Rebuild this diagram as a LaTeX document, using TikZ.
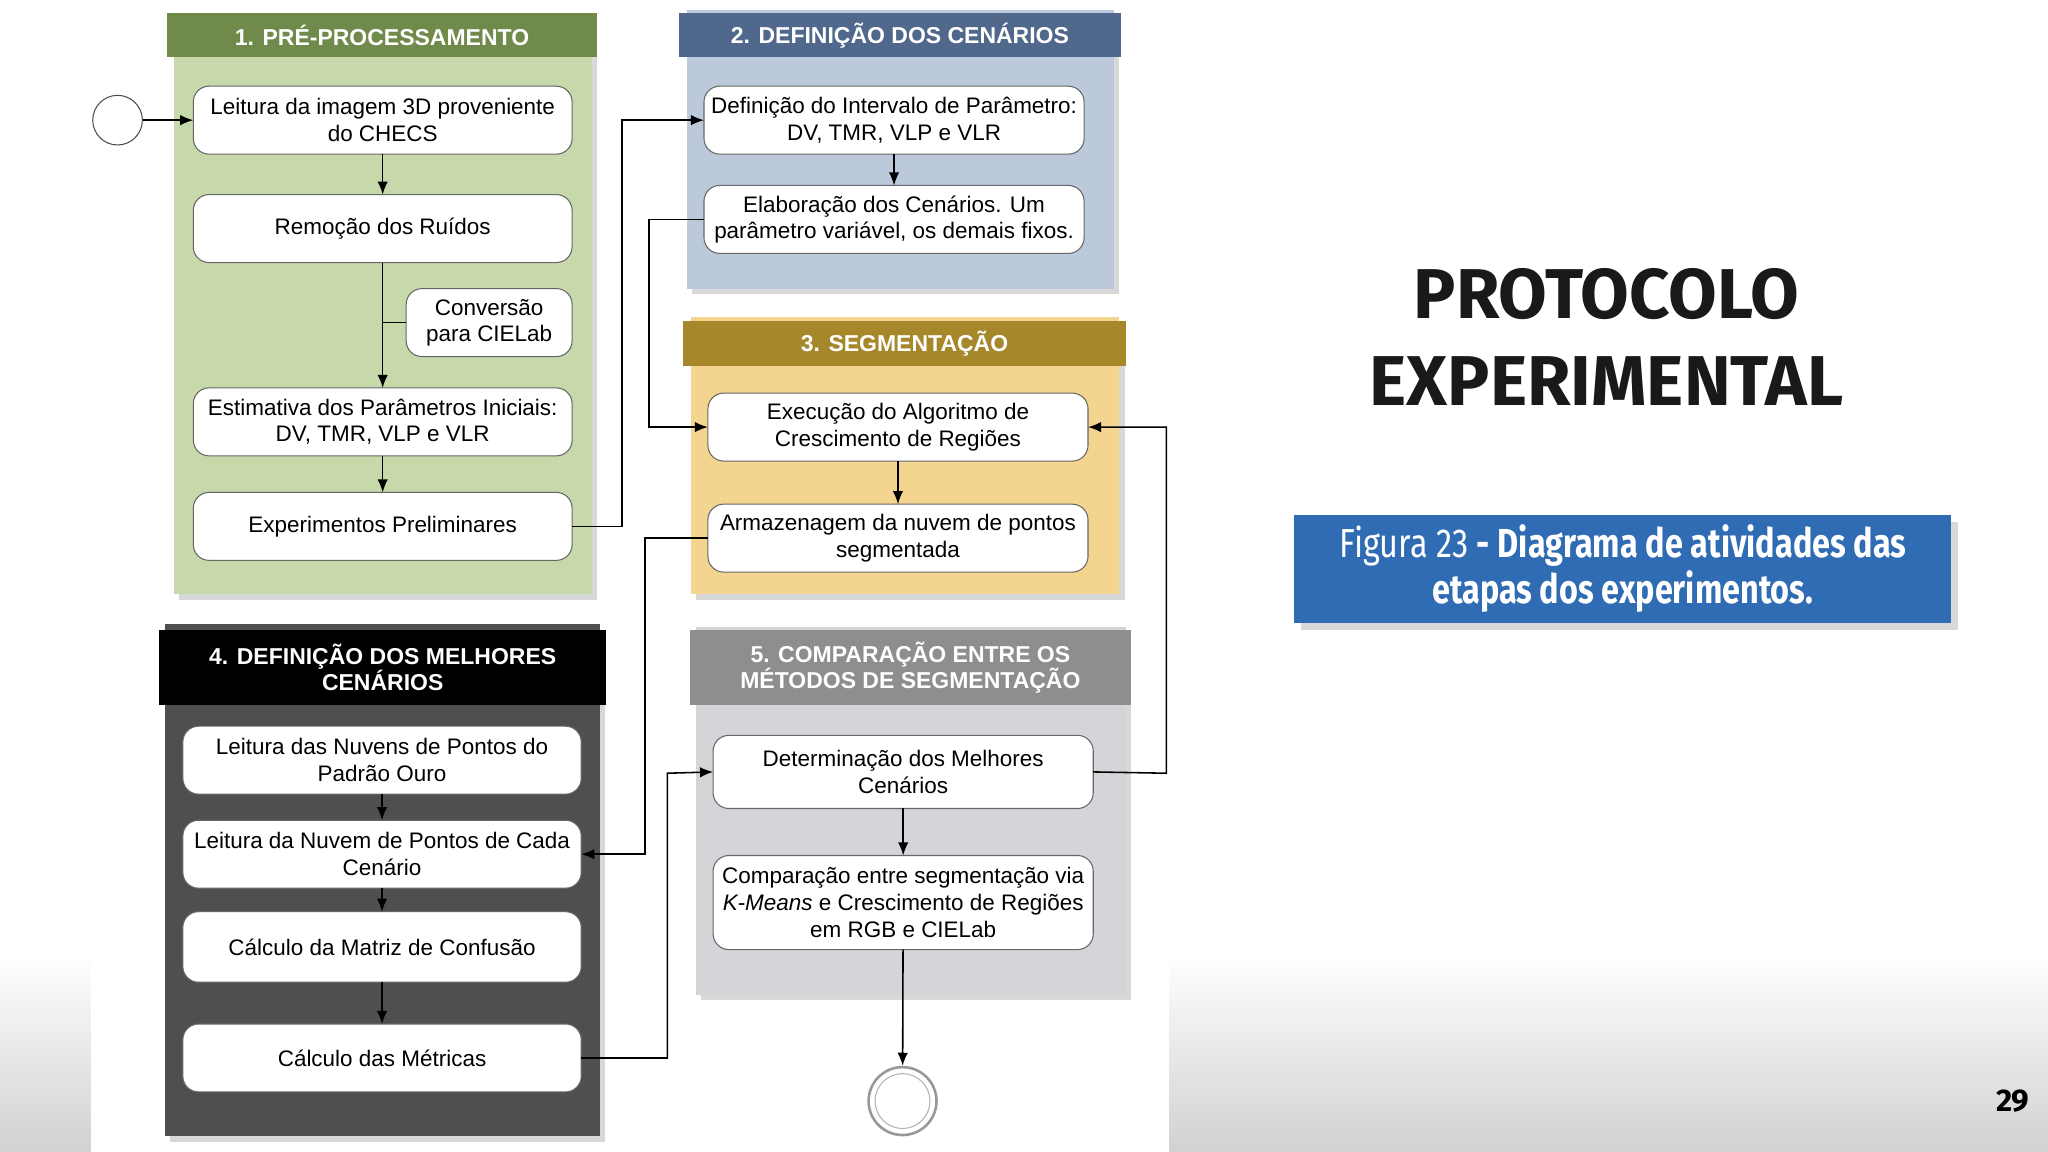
\documentclass[tikz,border=0pt]{standalone}
\usepackage{fontspec}
\setmainfont{Liberation Sans}
\newfontfamily\titfont{Fira Sans}
\usetikzlibrary{arrows.meta,shadows}
\definecolor{g1}{HTML}{C7D8AA}\definecolor{g2}{HTML}{6F8A4A}
\definecolor{b1}{HTML}{BCC9DB}\definecolor{b2}{HTML}{50688C}
\definecolor{y1}{HTML}{F3D590}\definecolor{y2}{HTML}{A6872A}
\definecolor{d1}{HTML}{4F4F4F}
\definecolor{c1}{HTML}{D5D5D9}\definecolor{c2}{HTML}{8E8E90}
\definecolor{fb}{HTML}{2F6CB3}
\tikzset{
 box/.style={draw=black!60,rounded corners=6pt,fill=white,outer sep=0pt,align=center,font=\fontsize{8.6}{10.2}\selectfont,inner sep=1pt},
 panel/.style={outer sep=0pt,drop shadow={shadow xshift=2pt,shadow yshift=-2pt,opacity=0.3}},
 head/.style={outer sep=0pt,align=center,text=white,font=\bfseries\fontsize{8.8}{10}\selectfont},
 arr/.style={-{Latex[length=5pt,width=4pt]},black,line width=0.6pt},
}
\newcommand{\bx}[7][box]{\node[#1,minimum width={(#5-#3)*0.5pt},minimum height={(#6-#4)*0.5pt}] (#2) at ({(#3+#5)/2},{(#4+#6)/2}) {#7};}
\begin{document}
\begin{tikzpicture}[x=0.5pt,y=-0.5pt]
\useasboundingbox (0,0) rectangle (1568,882);
\shade[top color=white,bottom color=black!18] (0,730) rectangle (1568,882);
\fill[white] (70,0) rectangle (895,882);
% panels
\bx[panel,fill=g1]{p1}{133}{10}{453}{455}{}
\bx[head,fill=g2]{h1}{128}{10}{457}{44}{1. PRÉ-PROCESSAMENTO}
\bx[panel,fill=b1]{p2}{526}{8}{853}{221}{}
\bx[head,fill=b2]{h2}{520}{10}{858}{44}{2. DEFINIÇÃO DOS CENÁRIOS}
\bx[panel,fill=y1]{p3}{529}{243}{857}{455}{}
\bx[head,fill=y2]{h3}{523}{246}{862}{280}{3. SEGMENTAÇÃO}
\bx[panel,fill=d1]{p4}{126}{478}{459}{870}{}
\bx[head,fill=black]{h4}{122}{482}{464}{540}{4. DEFINIÇÃO DOS MELHORES\\CENÁRIOS}
\bx[panel,fill=c1]{p5}{533}{480}{862}{762}{}
\bx[head,fill=c2]{h5}{528}{482}{866}{540}{5. COMPARAÇÃO ENTRE OS\\MÉTODOS DE SEGMENTAÇÃO}
% boxes
\bx{a1}{148}{66}{438}{118}{Leitura da imagem 3D proveniente\\do CHECS}
\bx{a2}{148}{149}{438}{201}{Remoção dos Ruídos}
\bx{a3}{311}{221}{438}{273}{Conversão\\para CIELab}
\bx{a4}{148}{297}{438}{349}{Estimativa dos Parâmetros Iniciais:\\DV, TMR, VLP e VLR}
\bx{a5}{148}{377}{438}{429}{Experimentos Preliminares}
\bx{b1x}{539}{66}{830}{118}{Definição do Intervalo de Parâmetro:\\DV, TMR, VLP e VLR}
\bx{b2x}{539}{142}{830}{194}{Elaboração dos Cenários. Um\\parâmetro variável, os demais fixos.}
\bx{s1}{542}{301}{833}{353}{Execução do Algoritmo de\\Crescimento de Regiões}
\bx{s2}{542}{386}{833}{438}{Armazenagem da nuvem de pontos\\segmentada}
\bx{m1}{140}{556}{445}{608}{Leitura das Nuvens de Pontos do\\Padrão Ouro}
\bx{m2}{140}{628}{445}{680}{Leitura da Nuvem de Pontos de Cada\\Cenário}
\bx{m3}{140}{698}{445}{752}{Cálculo da Matriz de Confusão}
\bx{m4}{140}{784}{445}{836}{Cálculo das Métricas}
\bx{c1x}{546}{563}{837}{619}{Determinação dos Melhores\\Cenários}
\bx{c2x}{546}{655}{837}{727}{Comparação entre segmentação via\\\textit{K-Means} e Crescimento de Regiões\\em RGB e CIELab}
% start / end
\node[circle,draw=black!70,fill=white,minimum size=19pt,inner sep=0pt] (st) at (90,92) {};
\node[circle,draw=black!40,fill=white,minimum size=26pt,inner sep=0pt,line width=1pt] (en) at (691,843) {};
\node[circle,draw=black!30,minimum size=21pt,inner sep=0pt] at (en) {};
% arrows
\draw[arr] (st) -- (a1);
\draw[arr] (a1) -- (a2);
\draw[arr] (a2) -- (a4);
\draw[black,line width=0.6pt] (a3.west) -- (293,247);
\draw[arr] (a4) -- (a5);
\draw[arr] (a5.east) -- (476,403) -- (476,92) -- (b1x.west);
\draw[arr] (b1x) -- (b2x);
\draw[arr] (b2x.west) -- (497,168) -- (497,327) -- (s1.west);
\draw[arr] (s1) -- (s2);
\draw[arr] (s2.west) -- (494,412) -- (494,654) -- (m2.east);
\draw[arr] (m1) -- (m2);
\draw[arr] (m2) -- (m3);
\draw[arr] (m3) -- (m4);
\draw[arr] (m4.east) -- (511,810) -- (511,592) -- (c1x.west);
\draw[arr] (c1x.east) -- (893,592) -- (893,327) -- (s1.east);
\draw[arr] (c1x) -- (c2x);
\draw[arr] (c2x) -- (en);
% title
\node[font=\titfont\bfseries\fontsize{27}{33}\selectfont,align=center,text=black!90] (tt) at (1230,258) {PROTOCOLO\\EXPERIMENTAL};
\node[fill=fb,minimum width=251.5pt,minimum height=41.5pt,outer sep=0pt,drop shadow={opacity=0.3}] (fg) at (1242.5,435.5) {};
\node[text=white,align=center,font=\titfont\fontsize{15.5}{17.5}\selectfont] (ft) at (fg) {\scalebox{0.8}[1]{Figura 23 \textbf{- Diagrama de atividades das}}\\\scalebox{0.8}[1]{\textbf{etapas dos experimentos.}}};
\node[font=\titfont\bfseries\fontsize{12}{14}\selectfont] (pg) at (1541,843) {29};
\end{tikzpicture}
\end{document}
